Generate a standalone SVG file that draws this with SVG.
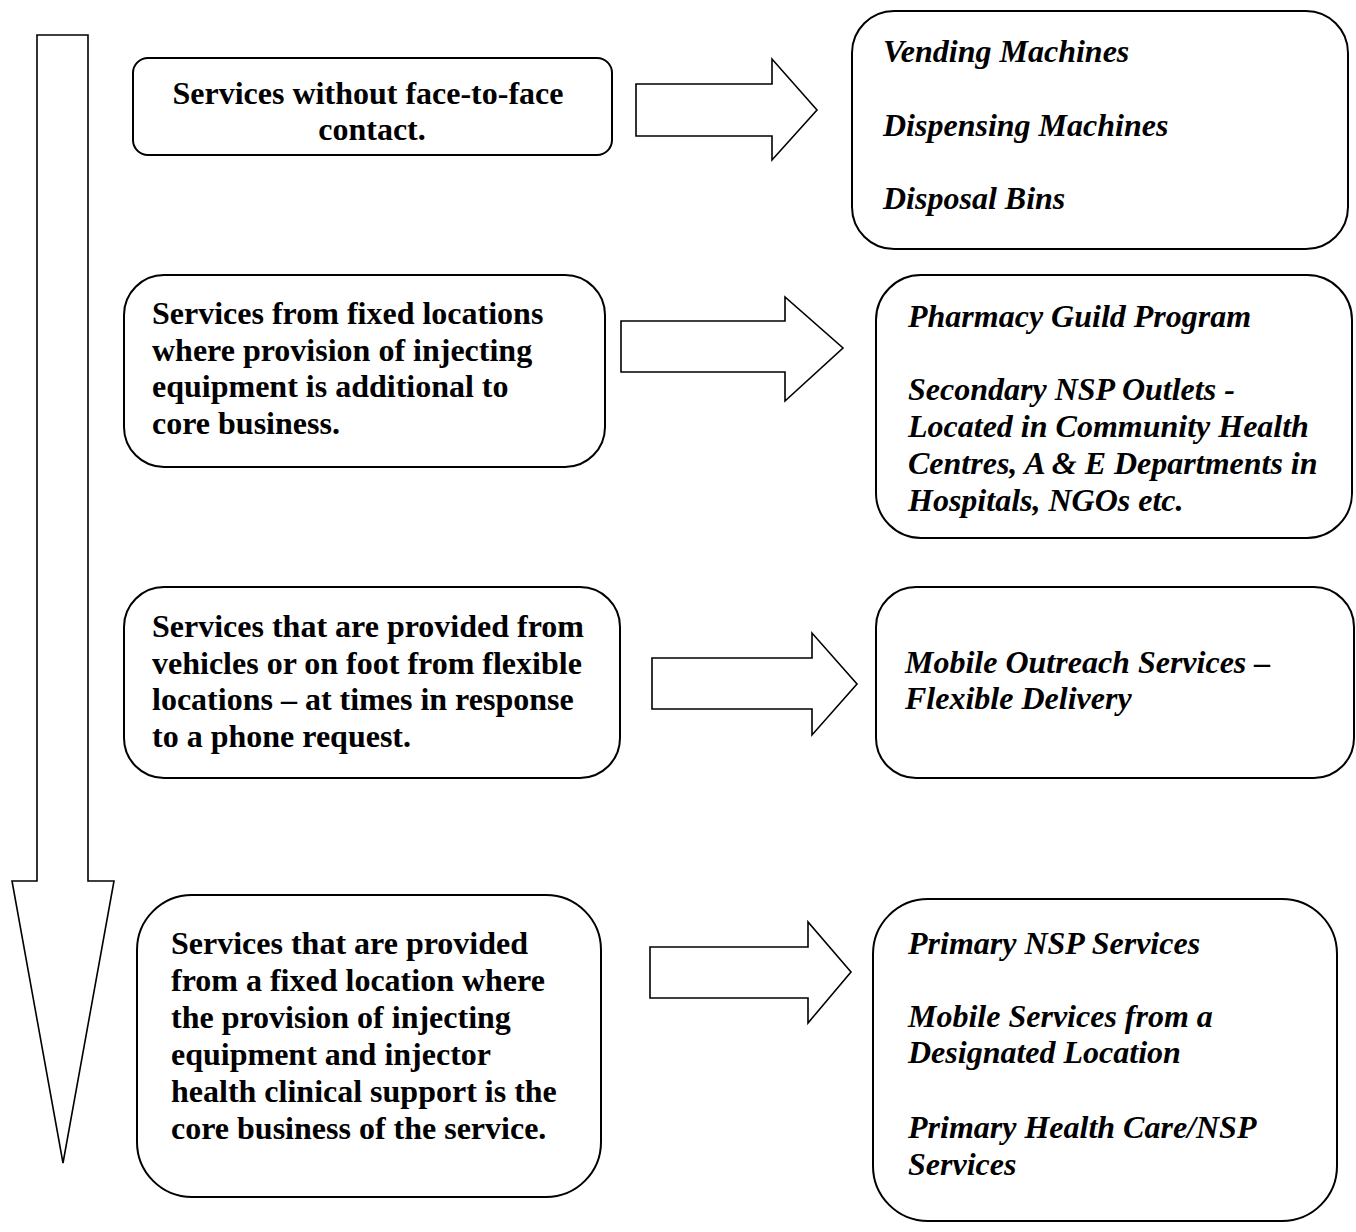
<svg xmlns="http://www.w3.org/2000/svg" width="1356" height="1232" viewBox="0 0 1356 1232">
  <style>
    .box { fill: #ffffff; stroke: #000000; stroke-width: 2; }
    .arrow { fill: #ffffff; stroke: #000000; stroke-width: 1.6; stroke-linejoin: miter; }
    .lbl { font-family: "Liberation Serif", "Times New Roman", serif; font-size: 32px; font-weight: bold; fill: #000000; }
    .item { font-family: "Liberation Serif", "Times New Roman", serif; font-size: 32px; font-weight: bold; font-style: italic; fill: #000000; }
  </style>
  <rect width="1356" height="1232" fill="#ffffff"/>

  <!-- block arrows -->
  <g id="connectors">
    <polygon id="trend-arrow" class="arrow" points="37,35 88,35 88,881 114,881 63,1163 12,881 37,881"/>
    <polygon id="arrow-1" class="arrow" points="636,84 772,84 772,59 817,110 772,160 772,136 636,136"/>
    <polygon id="arrow-2" class="arrow" points="621,321 785,321 785,297 843,348 785,401 785,372 621,372"/>
    <polygon id="arrow-3" class="arrow" points="652,658 812,658 812,633 857,684 812,735 812,709 652,709"/>
    <polygon id="arrow-4" class="arrow" points="650,947 808,947 808,922 851,972 808,1023 808,998 650,998"/>
  </g>

  <!-- service categories -->
  <g id="cat-1">
    <rect class="box" x="133" y="58" width="479" height="97" rx="15" ry="15"/>
    <text class="lbl" text-anchor="middle">
      <tspan x="372" y="104">Services without face-to-face</tspan>
      <tspan x="372" y="140">contact.</tspan>
    </text>
  </g>

  <g id="cat-2">
    <rect class="box" x="124" y="275" width="481" height="192" rx="40" ry="40"/>
    <text class="lbl">
      <tspan x="152" y="324">Services from fixed locations</tspan>
      <tspan x="152" y="361">where provision of injecting</tspan>
      <tspan x="152" y="397">equipment is additional to</tspan>
      <tspan x="152" y="434">core business.</tspan>
    </text>
  </g>

  <g id="cat-3">
    <rect class="box" x="124" y="587" width="496" height="191" rx="40" ry="40"/>
    <text class="lbl">
      <tspan x="152" y="637">Services that are provided from</tspan>
      <tspan x="152" y="674">vehicles or on foot from flexible</tspan>
      <tspan x="152" y="710">locations – at times in response</tspan>
      <tspan x="152" y="747">to a phone request.</tspan>
    </text>
  </g>

  <g id="cat-4">
    <rect class="box" x="137" y="895" width="464" height="302" rx="55" ry="55"/>
    <text class="lbl">
      <tspan x="171" y="954">Services that are provided</tspan>
      <tspan x="171" y="991">from a fixed location where</tspan>
      <tspan x="171" y="1028">the provision of injecting</tspan>
      <tspan x="171" y="1065">equipment and injector</tspan>
      <tspan x="171" y="1102">health clinical support is the</tspan>
      <tspan x="171" y="1139">core business of the service.</tspan>
    </text>
  </g>

  <!-- service examples -->
  <g id="ex-1">
    <rect class="box" x="852" y="11" width="496" height="238" rx="42" ry="42"/>
    <text class="item">
      <tspan x="883" y="62">Vending Machines</tspan>
      <tspan x="883" y="136">Dispensing Machines</tspan>
      <tspan x="883" y="209">Disposal Bins</tspan>
    </text>
  </g>

  <g id="ex-2">
    <rect class="box" x="876" y="275" width="476" height="263" rx="45" ry="45"/>
    <text class="item">
      <tspan x="908" y="327">Pharmacy Guild Program</tspan>
      <tspan x="908" y="400">Secondary NSP Outlets -</tspan>
      <tspan x="908" y="437">Located in Community Health</tspan>
      <tspan x="908" y="474">Centres, A &amp; E Departments in</tspan>
      <tspan x="908" y="511">Hospitals, NGOs etc.</tspan>
    </text>
  </g>

  <g id="ex-3">
    <rect class="box" x="876" y="587" width="478" height="191" rx="40" ry="40"/>
    <text class="item">
      <tspan x="905" y="673">Mobile Outreach Services –</tspan>
      <tspan x="905" y="709">Flexible Delivery</tspan>
    </text>
  </g>

  <g id="ex-4">
    <rect class="box" x="873" y="899" width="464" height="322" rx="55" ry="55"/>
    <text class="item">
      <tspan x="908" y="954">Primary NSP Services</tspan>
      <tspan x="908" y="1027">Mobile Services from a</tspan>
      <tspan x="908" y="1063">Designated Location</tspan>
      <tspan x="908" y="1138">Primary Health Care/NSP</tspan>
      <tspan x="908" y="1175">Services</tspan>
    </text>
  </g>
</svg>
